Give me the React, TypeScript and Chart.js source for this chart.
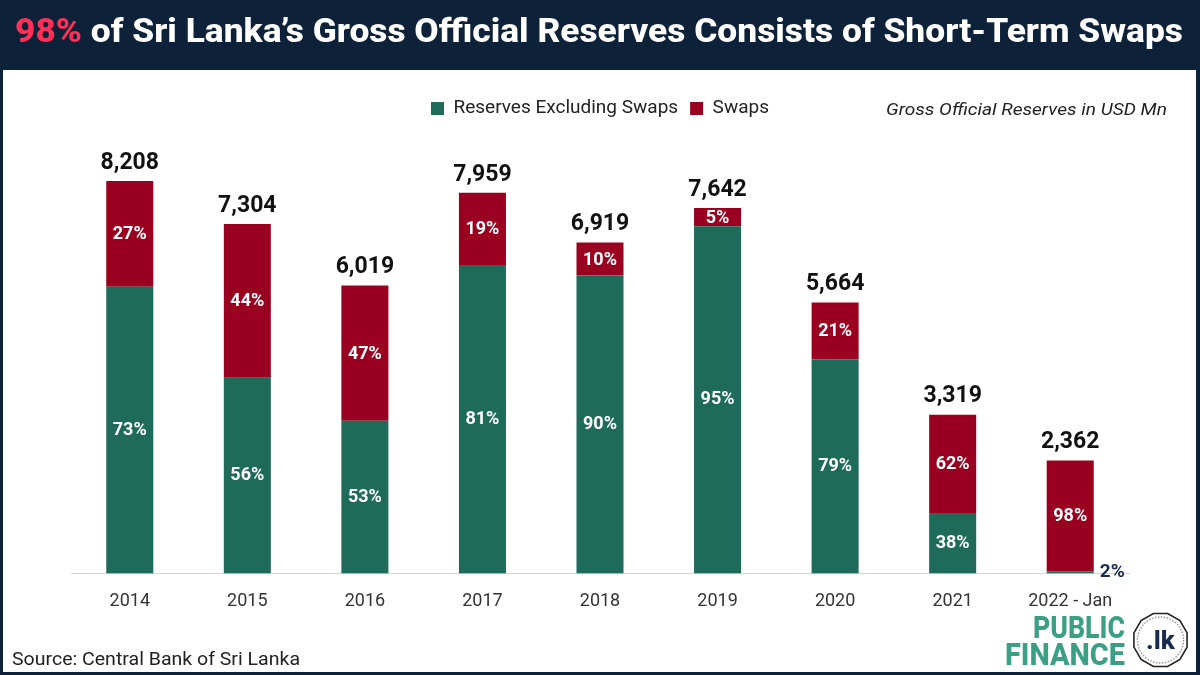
import React, { useEffect, useRef } from "react";
import { Chart, registerables } from "chart.js";

Chart.register(...registerables);

// Gross official reserves (USD Mn) and their split between swaps and the rest
const years = ["2014", "2015", "2016", "2017", "2018", "2019", "2020", "2021", "2022 - Jan"];
const totals = [8208, 7304, 6019, 7959, 6919, 7642, 5664, 3319, 2362];
const excludingPct = [73, 56, 53, 81, 90, 95, 79, 38, 2];
const swapsPct = [27, 44, 47, 19, 10, 5, 21, 62, 98];

const excludingValues = totals.map((t, i) => (t * excludingPct[i]) / 100);
const swapValues = totals.map((t, i) => (t * swapsPct[i]) / 100);

const GREEN = "#1f6b5a";
const RED = "#9a001f";
const NAVY = "#0d2139";
const LABEL_NAVY = "#1b2b4b";
const LOGO_GREEN = "#3a9f84";
const FONT = "Roboto, 'Noto Sans', sans-serif";

const fmt = (n: number) => n.toLocaleString("en-US");

// Extra room between the legend row and the bars
const legendGap = {
  id: "legendGap",
  beforeInit(chart: any) {
    const legend = chart.legend;
    if (!legend) return;
    const origFit = legend.fit;
    legend.fit = function () {
      origFit.call(this);
      this.height += 15;
    };
  },
};

// Percent shares inside the segments and totals above each stack
const barLabels = {
  id: "barLabels",
  afterDatasetsDraw(chart: any) {
    const ctx = chart.ctx;
    const m0 = chart.getDatasetMeta(0);
    const m1 = chart.getDatasetMeta(1);
    ctx.save();
    ctx.textBaseline = "middle";
    years.forEach((_, i) => {
      const b0 = m0.data[i];
      const b1 = m1.data[i];
      ctx.font = `bold 18px ${FONT}`;
      if (excludingPct[i] >= 10) {
        ctx.textAlign = "center";
        ctx.fillStyle = "#ffffff";
        ctx.fillText(`${excludingPct[i]}%`, b0.x, (b0.y + b0.base) / 2);
      } else {
        ctx.textAlign = "left";
        ctx.fillStyle = LABEL_NAVY;
        ctx.font = `bold 19px ${FONT}`;
        ctx.fillText(`${excludingPct[i]}%`, b0.x + b0.width / 2 + 6, b0.base - 1);
      }
      ctx.font = `bold 18px ${FONT}`;
      ctx.textAlign = "center";
      ctx.fillStyle = "#ffffff";
      ctx.fillText(`${swapsPct[i]}%`, b1.x, (b1.y + b1.base) / 2 + 1);

      ctx.font = `bold 23px ${FONT}`;
      ctx.fillStyle = "#111111";
      ctx.fillText(fmt(totals[i]), b1.x, b1.y - 18);
    });
    ctx.restore();
  },
};

function ReservesChart() {
  const ref = useRef<HTMLCanvasElement | null>(null);
  useEffect(() => {
    if (!ref.current) return;
    const chart = new Chart(ref.current, {
      type: "bar",
      data: {
        labels: years,
        datasets: [
          {
            label: "Reserves Excluding Swaps",
            data: excludingValues,
            backgroundColor: GREEN,
            barPercentage: 0.8,
            categoryPercentage: 0.5,
          },
          {
            label: "Swaps",
            data: swapValues,
            backgroundColor: RED,
            barPercentage: 0.8,
            categoryPercentage: 0.5,
          },
        ],
      },
      options: {
        responsive: false,
        animation: false,
        devicePixelRatio: 1,
        layout: { padding: { left: 68, right: 67, top: 17, bottom: 43 } },
        plugins: {
          legend: {
            display: true,
            position: "top",
            labels: {
              boxWidth: 13,
              boxHeight: 13,
              padding: 12,
              color: "#222222",
              font: { family: FONT, size: 19 },
            },
          },
          tooltip: { enabled: false },
        },
        scales: {
          x: {
            stacked: true,
            grid: { display: false, drawTicks: false },
            border: { display: true, color: "#d4d4d4", width: 1 },
            ticks: { color: "#333333", font: { family: FONT, size: 18 }, padding: 17 },
          },
          y: { stacked: true, display: false, min: 0, max: 9000 },
        },
      },
      plugins: [legendGap, barLabels],
    });
    return () => chart.destroy();
  }, []);
  return (
    <canvas
      ref={ref}
      width={1193}
      height={602}
      style={{ position: "absolute", left: 3, top: 70, width: 1193, height: 602 }}
    />
  );
}

export default function App() {
  return (
    <div
      style={{
        position: "fixed",
        left: 0,
        top: 0,
        width: 1200,
        height: 675,
        background: NAVY,
        overflow: "hidden",
        fontFamily: FONT,
      }}
    >
      <div
        style={{ position: "absolute", left: 3, top: 70, width: 1193, height: 602, background: "#ffffff" }}
      />
      <ReservesChart />
      <svg
        width={1200}
        height={675}
        style={{ position: "absolute", left: 0, top: 0, pointerEvents: "none" }}
      >
        <text
          x={15}
          y={42}
          textLength={1168}
          lengthAdjust="spacingAndGlyphs"
          fontFamily={FONT}
          fontSize={33}
          fontWeight={800}
          fill="#ffffff"
        >
          <tspan fill="#ff2f56">98%</tspan> of Sri Lanka’s Gross Official Reserves Consists of Short-Term Swaps
        </text>
        <text
          x={1167}
          y={115}
          textAnchor="end"
          textLength={281}
          lengthAdjust="spacingAndGlyphs"
          fontFamily={FONT}
          fontSize={17}
          fontStyle="italic"
          fill="#222222"
        >
          Gross Official Reserves in USD Mn
        </text>
        <text
          x={12}
          y={665}
          textLength={288}
          lengthAdjust="spacingAndGlyphs"
          fontFamily={FONT}
          fontSize={18}
          fill="#222222"
        >
          Source: Central Bank of Sri Lanka
        </text>
        <text
          x={1125}
          y={638}
          textAnchor="end"
          textLength={92}
          lengthAdjust="spacingAndGlyphs"
          fontFamily={FONT}
          fontSize={31}
          fontWeight={800}
          fill={LOGO_GREEN}
        >
          PUBLIC
        </text>
        <text
          x={1125}
          y={665}
          textAnchor="end"
          textLength={120}
          lengthAdjust="spacingAndGlyphs"
          fontFamily={FONT}
          fontSize={31}
          fontWeight={800}
          fill={LOGO_GREEN}
        >
          FINANCE
        </text>
        <polygon
          points={Array.from({ length: 12 }, (_, k) => {
            const a = (Math.PI / 6) * k + Math.PI / 12;
            return `${1160.5 + 27.5 * Math.cos(a)},${640 + 27.5 * Math.sin(a)}`;
          }).join(" ")}
          fill="#ffffff"
          stroke="#222222"
          strokeWidth={1.6}
        />
        <circle cx={1160.5} cy={640} r={23} fill="none" stroke="#9a9a9a" strokeWidth={1.5} strokeDasharray="1.5 1.5" />
        <text
          x={1160.5}
          y={649}
          textAnchor="middle"
          fontFamily={FONT}
          fontSize={26}
          fontWeight={800}
          fill={LABEL_NAVY}
        >
          .lk
        </text>
      </svg>
    </div>
  );
}
